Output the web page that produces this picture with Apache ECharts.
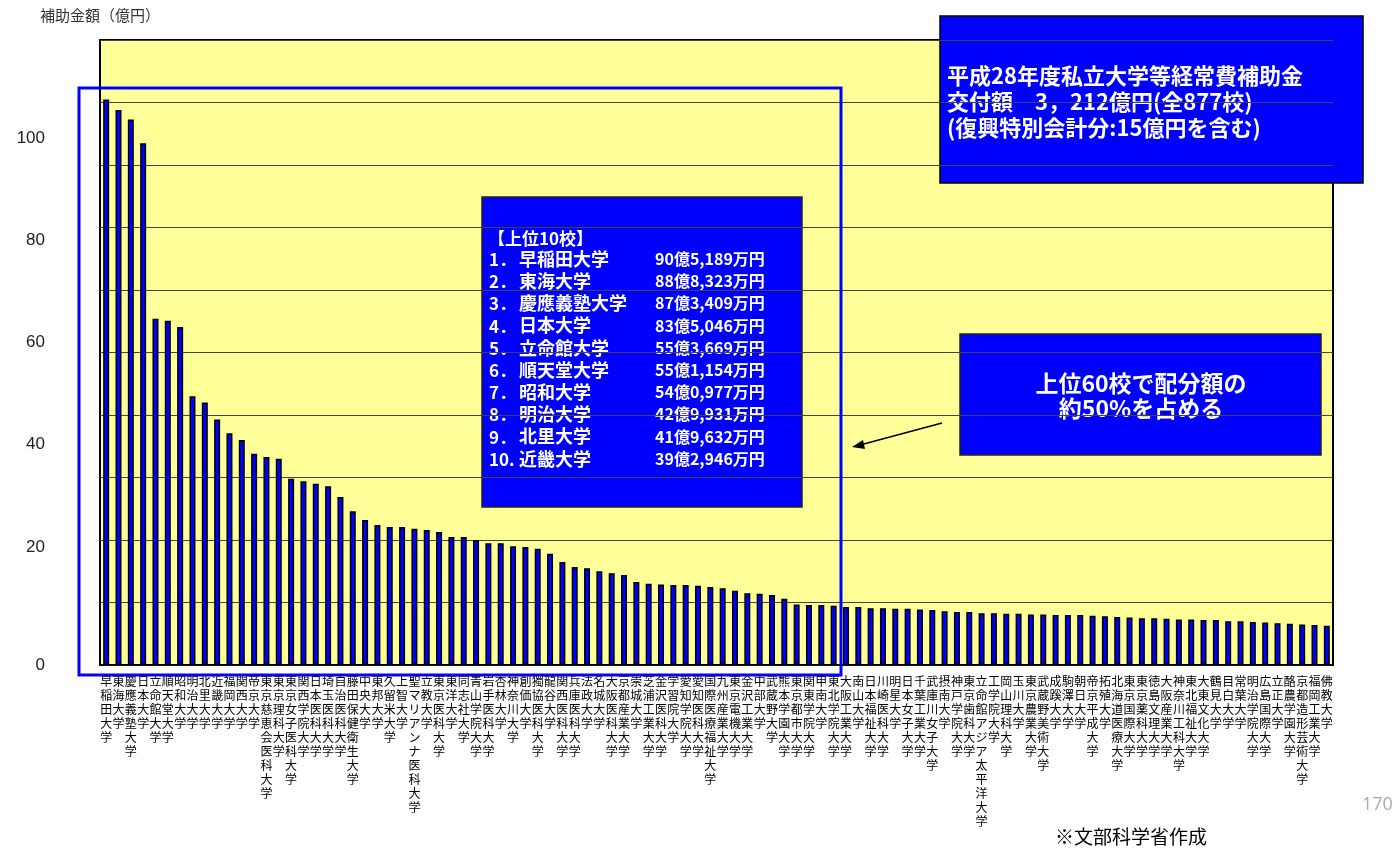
<!DOCTYPE html>
<html>
<head>
<meta charset="utf-8">
<script src="https://cdn.jsdelivr.net/npm/echarts@6/dist/echarts.min.js"></script>
<style>
html, body { margin: 0; padding: 0; background: #fff; }
#chart { width: 1397px; height: 849px; }
</style>
</head>
<body>
<div id="chart"></div>
<script>
// 平成28年度 私立大学等経常費補助金 上位100校（億円）
var universities = [
  "早稲田大学", "東海大学", "慶應義塾大学", "日本大学", "立命館大学",
  "順天堂大学", "昭和大学", "明治大学", "北里大学", "近畿大学",
  "福岡大学", "関西大学", "帝京大学", "東京慈恵会医科大学", "東京理科大学",
  "東京女子医科大学", "関西学院大学", "日本医科大学", "埼玉医科大学", "自治医科大学",
  "藤田保健衛生大学", "中央大学", "東邦大学", "久留米大学", "上智大学",
  "聖マリアンナ医科大学", "立教大学", "東京医科大学", "東洋大学", "同志社大学",
  "青山学院大学", "岩手医科大学", "杏林大学", "神奈川大学", "創価大学",
  "獨協医科大学", "龍谷大学", "関西医科大学", "兵庫医科大学", "法政大学",
  "名城大学", "大阪医科大学", "京都産業大学", "崇城大学", "芝浦工業大学",
  "金沢医科大学", "学習院大学", "愛知学院大学", "愛知医科大学", "国際医療福祉大学",
  "九州産業大学", "東京電機大学", "金沢工業大学", "中部大学", "武蔵野大学",
  "熊本学園大学", "東京都市大学", "関東学院大学", "甲南大学", "東北学院大学",
  "大阪工業大学", "南山大学", "日本福祉大学", "川崎医科大学", "明星大学",
  "日本女子大学", "千葉工業大学", "武庫川女子大学", "摂南大学", "神戸学院大学",
  "東京歯科大学", "立命館アジア太平洋大学", "工学院大学", "岡山理科大学", "玉川大学",
  "東京農業大学", "武蔵野美術大学", "成蹊大学", "駒澤大学", "朝日大学",
  "帝京平成大学", "拓殖大学", "北海道医療大学", "東京国際大学", "東京薬科大学",
  "徳島文理大学", "大阪産業大学", "神奈川工科大学", "東北福祉大学", "大東文化大学",
  "鶴見大学", "目白大学", "常葉大学", "明治学院大学", "広島国際大学",
  "立正大学", "酪農学園大学", "京都造形芸術大学", "福岡工業大学", "佛教大学"
];

var subsidy = [
  90.5, 88.8, 87.3, 83.5, 55.4, 55.1, 54.1, 43.0, 42.0, 39.3,
  37.1, 36.0, 33.8, 33.3, 33.0, 29.8, 29.4, 29.0, 28.6, 26.9,
  24.6, 23.2, 22.4, 22.1, 22.1, 21.8, 21.6, 21.3, 20.5, 20.5,
  20.0, 19.5, 19.5, 19.0, 18.9, 18.6, 17.8, 16.5, 15.7, 15.5,
  15.0, 14.7, 14.4, 13.3, 13.0, 12.9, 12.8, 12.8, 12.7, 12.5,
  12.3, 11.9, 11.5, 11.4, 11.2, 10.6, 9.7, 9.6, 9.6, 9.5,
  9.3, 9.3, 9.1, 9.1, 9.0, 9.0, 8.9, 8.8, 8.6, 8.5,
  8.5, 8.3, 8.3, 8.2, 8.2, 8.1, 8.1, 8.0, 8.0, 8.0,
  7.9, 7.8, 7.7, 7.6, 7.5, 7.5, 7.4, 7.3, 7.3, 7.2,
  7.2, 7.0, 7.0, 6.9, 6.8, 6.7, 6.6, 6.5, 6.4, 6.3
];

// 左側の目盛ラベル（元資料では格子線とずれて描かれている）
var tickLabels = [0, 20, 40, 60, 80, 100];

var top10Names = [
  "早稲田大学", "東海大学", "慶應義塾大学", "日本大学", "立命館大学",
  "順天堂大学", "昭和大学", "明治大学", "北里大学", "近畿大学"
];
var top10Amounts = [
  "90億5,189万円", "88億8,323万円", "87億3,409万円", "83億5,046万円", "55億3,669万円",
  "55億1,154万円", "54億0,977万円", "42億9,931万円", "41億9,632万円", "39億2,946万円"
];

var jp = '"Noto Sans CJK JP", "Noto Sans", sans-serif';

// 上位10校のテキスト
var top10Texts = [{
  type: "text", left: 488, top: 230,
  style: { text: "【上位10校】", fill: "#fff", font: "bold 17px " + jp }
}];
top10Names.forEach(function (name, i) {
  var y = 251 + i * 22.2;
  top10Texts.push({
    type: "text", left: 489, top: y,
    style: { text: (i + 1) + (i < 9 ? "．" : ". "), fill: "#fff", font: "bold 17px " + jp }
  });
  top10Texts.push({
    type: "text", left: 519, top: y - 1,
    style: { text: name, fill: "#fff", font: "bold 18px " + jp }
  });
  top10Texts.push({
    type: "text", left: 655, top: y,
    style: { text: top10Amounts[i], fill: "#fff", font: "bold 16px " + jp }
  });
});

var chart = echarts.init(document.getElementById("chart"));
chart.setOption({
  animation: false,
  backgroundColor: "#fff",
  grid: {
    left: 100, right: 64, top: 40, bottom: 184,
    show: true,
    backgroundColor: "#FFFF99",
    borderColor: "#000",
    borderWidth: 2
  },
  xAxis: {
    type: "category",
    data: universities,
    axisLine: { lineStyle: { color: "#000", width: 1.5 } },
    axisTick: { show: false },
    axisLabel: {
      interval: 0,
      margin: 9,
      color: "#000",
      fontFamily: jp,
      fontSize: 12,
      lineHeight: 14,
      verticalAlign: "top",
      hideOverlap: false,
      formatter: function (v) { return v.split("").join("\n"); }
    }
  },
  yAxis: [
    {
      type: "value",
      min: 0, max: 100, interval: 10,
      axisLine: { show: false },
      axisTick: { show: false },
      axisLabel: {
        customValues: tickLabels.slice(0, 1),
        margin: 55,
        color: "#222",
        fontFamily: "Arial, 'Liberation Sans', sans-serif",
        fontSize: 17
      },
      splitLine: { lineStyle: { color: "#444", width: 1.2 } }
    },
    {
      // 20〜100 の目盛ラベル専用の軸
      type: "value",
      position: "left",
      min: -3.08, max: 119.17,
      axisLine: { show: false },
      axisTick: { show: false },
      splitLine: { show: false },
      axisLabel: {
        customValues: tickLabels.slice(1),
        margin: 55,
        color: "#222",
        fontFamily: "Arial, 'Liberation Sans', sans-serif",
        fontSize: 17
      }
    }
  ],
  series: [{
    type: "bar",
    data: subsidy,
    barWidth: 6,
    itemStyle: { color: "#0000FF", borderColor: "#000", borderWidth: 1.5 }
  }],
  graphic: [
    {
      type: "text", left: 40, top: 8,
      style: { text: "補助金額（億円）", fill: "#333", font: "15px " + jp }
    },
    {
      type: "rect", z: 100,
      shape: { x: 79, y: 88, width: 762, height: 587 },
      style: { fill: "none", stroke: "#0000FF", lineWidth: 3 }
    },
    {
      type: "group", z: 110,
      children: [
        {
          type: "rect",
          shape: { x: 940, y: 16, width: 423, height: 167 },
          style: { fill: "#0000FF", stroke: "#000", lineWidth: 1.5 }
        },
        {
          type: "text", left: 947, top: 63,
          style: {
            text: "平成28年度私立大学等経常費補助金\n交付額　3，212億円(全877校)\n(復興特別会計分:15億円を含む)",
            fill: "#fff", font: "bold 22px " + jp, lineHeight: 26
          }
        }
      ]
    },
    {
      type: "group", z: 110,
      children: [
        {
          type: "rect",
          shape: { x: 482, y: 197, width: 320, height: 310 },
          style: { fill: "#0000FF", stroke: "#222", lineWidth: 1.5 }
        }
      ].concat(top10Texts)
    },
    {
      type: "group", z: 110,
      children: [
        {
          type: "rect",
          shape: { x: 960, y: 334, width: 361, height: 121 },
          style: { fill: "#0000FF", stroke: "#222", lineWidth: 1.5 }
        },
        {
          type: "text", x: 1141, y: 396,
          style: {
            text: "上位60校で配分額の\n約50%を占める",
            fill: "#fff", font: "bold 23px " + jp, lineHeight: 25,
            align: "center", verticalAlign: "middle"
          }
        }
      ]
    },
    {
      type: "line", z: 110,
      shape: { x1: 942, y1: 423, x2: 860, y2: 445 },
      style: { stroke: "#000", lineWidth: 1.5 }
    },
    {
      type: "polygon", z: 110,
      shape: { points: [[852, 447], [863, 440], [865, 449]] },
      style: { fill: "#000" }
    },
    {
      type: "text", left: 1362, top: 796,
      style: { text: "170", fill: "#aaa", font: "18px 'Open Sans', sans-serif" }
    },
    {
      type: "text", left: 1055, top: 827,
      style: { text: "※文部科学省作成", fill: "#000", font: "19px " + jp }
    }
  ]
});
</script>
</body>
</html>
